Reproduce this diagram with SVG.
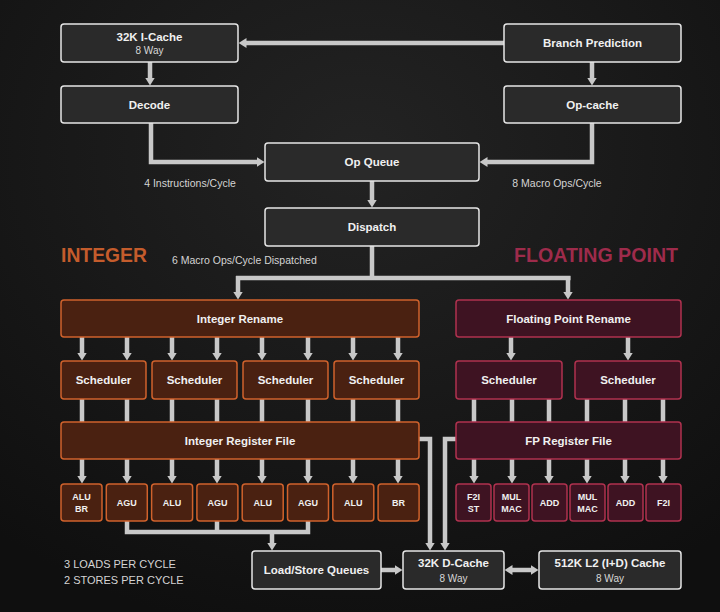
<svg xmlns="http://www.w3.org/2000/svg" width="720" height="612" viewBox="0 0 720 612">
<defs>
<radialGradient id="bg" cx="0.5" cy="0.25" r="0.8">
<stop offset="0" stop-color="#232323"/>
<stop offset="0.55" stop-color="#181818"/>
<stop offset="1" stop-color="#0f0f0f"/>
</radialGradient>
<marker id="ah" viewBox="0 -5 8 10" refX="0.5" refY="0" markerWidth="8" markerHeight="10" markerUnits="userSpaceOnUse" orient="auto-start-reverse">
<path d="M0,-5 L8,0 L0,5 z" fill="#c8c8c8"/>
</marker>
<style>
.g rect{fill:#2a2a2a;stroke:#e6e6e6;stroke-width:1.5}
.i rect{fill:#4a2111;stroke:#d0622c;stroke-width:1.5}
.f rect{fill:#3e1322;stroke:#b0324f;stroke-width:1.5}
text{font-family:"Liberation Sans",Arial,sans-serif;fill:#f0f0f0;text-anchor:middle}
.t{font-size:11.5px;font-weight:bold}
.s{font-size:10px;fill:#d8d8d8}
.u{font-size:9px;font-weight:bold}
.lbl{font-size:10.5px;fill:#d4d4d4}
.big{font-size:21px;font-weight:bold;text-anchor:start}
.note{font-size:11px;fill:#d4d4d4;text-anchor:start}
#connectors path{fill:none;stroke:#c8c8c8;stroke-width:4.5;stroke-linejoin:miter}
#connectors .a{marker-end:url(#ah)}
</style>
</defs>
<rect width="720" height="612" fill="url(#bg)"/>

<g id="connectors">
<path class="a" d="M504,43 H246"/>
<path class="a" d="M150,62 V78"/>
<path class="a" d="M592,62 V78"/>
<path class="a" d="M151,123 V162 H257"/>
<path class="a" d="M592,123 V162 H487"/>
<path class="a" d="M372,181 V200"/>
<path d="M372,246 V278"/>
<path d="M236,278 H570.5"/>
<path class="a" d="M238,276 V292"/>
<path class="a" d="M568,276 V292"/>
<path class="a" d="M82,337 V353"/>
<path class="a" d="M127,337 V353"/>
<path class="a" d="M172,337 V353"/>
<path class="a" d="M217,337 V353"/>
<path class="a" d="M262,337 V353"/>
<path class="a" d="M308,337 V353"/>
<path class="a" d="M353,337 V353"/>
<path class="a" d="M398,337 V353"/>
<path d="M82,399 V422 M127,399 V422 M172,399 V422 M217,399 V422 M262,399 V422 M308,399 V422 M353,399 V422 M398,399 V422"/>
<path class="a" d="M82,459 V476"/>
<path class="a" d="M127,459 V476"/>
<path class="a" d="M172,459 V476"/>
<path class="a" d="M217,459 V476"/>
<path class="a" d="M262,459 V476"/>
<path class="a" d="M308,459 V476"/>
<path class="a" d="M353,459 V476"/>
<path class="a" d="M398,459 V476"/>
<path d="M127,521 V532 H308 V521 M217,521 V532"/>
<path class="a" d="M272,532 V543"/>
<path class="a" d="M381,570 H395"/>
<path class="a" d="M419,439 H430 V543"/>
<path class="a" d="M456,439 H445 V543"/>
<path class="a" d="M512,570 H531" marker-start="url(#ah)"/>
<path class="a" d="M511,337 V353"/>
<path class="a" d="M628,337 V353"/>
<path d="M474,399 V422 M512,399 V422 M549,399 V422 M587,399 V422 M625,399 V422 M663,399 V422"/>
<path class="a" d="M474,459 V476"/>
<path class="a" d="M512,459 V476"/>
<path class="a" d="M549,459 V476"/>
<path class="a" d="M587,459 V476"/>
<path class="a" d="M625,459 V476"/>
<path class="a" d="M663,459 V476"/>
</g>

<g id="icache" class="g"><rect x="61" y="24" width="177" height="38" rx="3"/><text class="t" x="149.5" y="41">32K I-Cache</text><text class="s" x="149.5" y="54">8 Way</text></g>
<g id="branch" class="g"><rect x="504" y="24" width="177" height="38" rx="3"/><text class="t" x="592.5" y="47">Branch Prediction</text></g>
<g id="decode" class="g"><rect x="61" y="86" width="177" height="37" rx="3"/><text class="t" x="149.5" y="108.5">Decode</text></g>
<g id="opcache" class="g"><rect x="504" y="86" width="177" height="37" rx="3"/><text class="t" x="592.5" y="108.5">Op-cache</text></g>
<g id="opqueue" class="g"><rect x="265" y="143" width="214" height="38" rx="3"/><text class="t" x="372" y="166">Op Queue</text></g>
<g id="dispatch" class="g"><rect x="265" y="208" width="214" height="38" rx="3"/><text class="t" x="372" y="231">Dispatch</text></g>

<text class="lbl" x="190" y="187">4 Instructions/Cycle</text>
<text class="lbl" x="557" y="187">8 Macro Ops/Cycle</text>
<text class="lbl" x="172" y="264" style="text-anchor:start">6 Macro Ops/Cycle Dispatched</text>
<text class="big" x="61" y="261.5" style="fill:#c45c2c" textLength="86" lengthAdjust="spacingAndGlyphs">INTEGER</text>
<text class="big" x="514" y="261.5" style="fill:#9e2b4b" textLength="164" lengthAdjust="spacingAndGlyphs">FLOATING POINT</text>

<g id="int-rename" class="i"><rect x="61" y="300" width="358" height="37" rx="3"/><text class="t" x="240" y="322.5">Integer Rename</text></g>
<g id="int-sched1" class="i"><rect x="61" y="361" width="85" height="38" rx="3"/><text class="t" x="103.5" y="384">Scheduler</text></g>
<g id="int-sched2" class="i"><rect x="152" y="361" width="85" height="38" rx="3"/><text class="t" x="194.5" y="384">Scheduler</text></g>
<g id="int-sched3" class="i"><rect x="243" y="361" width="85" height="38" rx="3"/><text class="t" x="285.5" y="384">Scheduler</text></g>
<g id="int-sched4" class="i"><rect x="334" y="361" width="85" height="38" rx="3"/><text class="t" x="376.5" y="384">Scheduler</text></g>
<g id="int-rf" class="i"><rect x="61" y="422" width="358" height="37" rx="3"/><text class="t" x="240" y="444.5">Integer Register File</text></g>
<g id="int-u1" class="i"><rect x="61" y="484" width="41" height="37" rx="3"/><text class="u" x="81.5" y="499.5">ALU</text><text class="u" x="81.5" y="512">BR</text></g>
<g id="int-u2" class="i"><rect x="106.3" y="484" width="41" height="37" rx="3"/><text class="u" x="126.8" y="505.5">AGU</text></g>
<g id="int-u3" class="i"><rect x="151.6" y="484" width="41" height="37" rx="3"/><text class="u" x="172.1" y="505.5">ALU</text></g>
<g id="int-u4" class="i"><rect x="196.9" y="484" width="41" height="37" rx="3"/><text class="u" x="217.4" y="505.5">AGU</text></g>
<g id="int-u5" class="i"><rect x="242.2" y="484" width="41" height="37" rx="3"/><text class="u" x="262.7" y="505.5">ALU</text></g>
<g id="int-u6" class="i"><rect x="287.5" y="484" width="41" height="37" rx="3"/><text class="u" x="308" y="505.5">AGU</text></g>
<g id="int-u7" class="i"><rect x="332.8" y="484" width="41" height="37" rx="3"/><text class="u" x="353.3" y="505.5">ALU</text></g>
<g id="int-u8" class="i"><rect x="378.1" y="484" width="41" height="37" rx="3"/><text class="u" x="398.6" y="505.5">BR</text></g>

<g id="fp-rename" class="f"><rect x="456" y="300" width="225" height="37" rx="3"/><text class="t" x="568.5" y="322.5">Floating Point Rename</text></g>
<g id="fp-sched1" class="f"><rect x="456" y="361" width="106" height="38" rx="3"/><text class="t" x="509" y="384">Scheduler</text></g>
<g id="fp-sched2" class="f"><rect x="575" y="361" width="106" height="38" rx="3"/><text class="t" x="628" y="384">Scheduler</text></g>
<g id="fp-rf" class="f"><rect x="456" y="422" width="225" height="37" rx="3"/><text class="t" x="568.5" y="444.5">FP Register File</text></g>
<g id="fp-u1" class="f"><rect x="456" y="484" width="35" height="37" rx="3"/><text class="u" x="473.5" y="499.5">F2I</text><text class="u" x="473.5" y="512">ST</text></g>
<g id="fp-u2" class="f"><rect x="494" y="484" width="35" height="37" rx="3"/><text class="u" x="511.5" y="499.5">MUL</text><text class="u" x="511.5" y="512">MAC</text></g>
<g id="fp-u3" class="f"><rect x="532" y="484" width="35" height="37" rx="3"/><text class="u" x="549.5" y="505.5">ADD</text></g>
<g id="fp-u4" class="f"><rect x="570" y="484" width="35" height="37" rx="3"/><text class="u" x="587.5" y="499.5">MUL</text><text class="u" x="587.5" y="512">MAC</text></g>
<g id="fp-u5" class="f"><rect x="608" y="484" width="35" height="37" rx="3"/><text class="u" x="625.5" y="505.5">ADD</text></g>
<g id="fp-u6" class="f"><rect x="646" y="484" width="35" height="37" rx="3"/><text class="u" x="663.5" y="505.5">F2I</text></g>

<g id="lsq" class="g"><rect x="252" y="551" width="129" height="38" rx="3"/><text class="t" x="316.5" y="574">Load/Store Queues</text></g>
<g id="dcache" class="g"><rect x="403" y="551" width="101" height="38" rx="3"/><text class="t" x="453.5" y="567">32K D-Cache</text><text class="s" x="453.5" y="581.5">8 Way</text></g>
<g id="l2" class="g"><rect x="539" y="551" width="142" height="38" rx="3"/><text class="t" x="610" y="567">512K L2 (I+D) Cache</text><text class="s" x="610" y="581.5">8 Way</text></g>

<text class="note" x="64" y="568">3 LOADS PER CYCLE</text>
<text class="note" x="64" y="584">2 STORES PER CYCLE</text>
</svg>
